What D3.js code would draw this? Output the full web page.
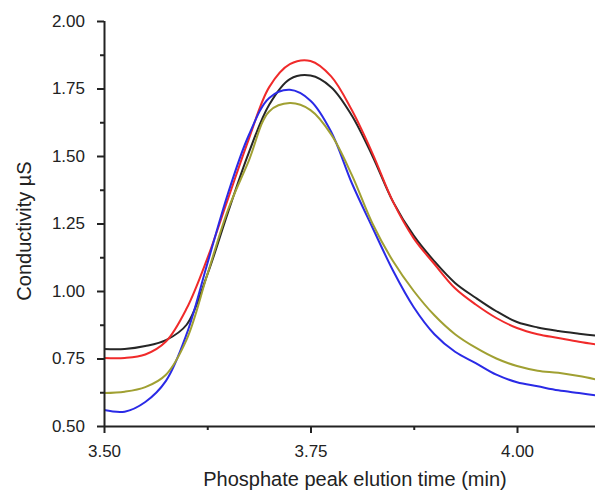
<!DOCTYPE html>
<html>
<head>
<meta charset="utf-8">
<script src="https://cdn.jsdelivr.net/npm/d3@7"></script>
<style>
  body { margin: 0; background: #fff; }
  svg text { font-family: "Liberation Sans", Arial, sans-serif; fill: #222; }
  .axis text { font-size: 17px; }
</style>
</head>
<body>
<svg id="chart" width="595" height="492"></svg>
<script>
// elution time (min)
var times = [3.500, 3.525, 3.550, 3.575, 3.600, 3.625, 3.650, 3.675, 3.700, 3.725,
             3.750, 3.775, 3.800, 3.825, 3.850, 3.875, 3.900, 3.925, 3.950, 3.975,
             4.000, 4.025, 4.050, 4.075, 4.100];

// conductivity (uS)
var blackVals = [0.785, 0.785, 0.796, 0.818, 0.875, 1.060, 1.290, 1.510, 1.690, 1.785,
                 1.798, 1.755, 1.650, 1.500, 1.330, 1.205, 1.110, 1.030, 0.975, 0.925,
                 0.885, 0.865, 0.852, 0.842, 0.833];
var redVals   = [0.752, 0.752, 0.765, 0.813, 0.935, 1.120, 1.340, 1.560, 1.755, 1.840,
                 1.852, 1.795, 1.670, 1.510, 1.330, 1.195, 1.100, 1.010, 0.950, 0.900,
                 0.863, 0.840, 0.826, 0.812, 0.800];
var blueVals  = [0.559, 0.553, 0.589, 0.667, 0.840, 1.100, 1.360, 1.575, 1.715, 1.745,
                 1.705, 1.590, 1.400, 1.235, 1.075, 0.940, 0.840, 0.775, 0.733, 0.690,
                 0.662, 0.647, 0.632, 0.622, 0.612];
var oliveVals = [0.622, 0.627, 0.644, 0.690, 0.820, 1.060, 1.300, 1.480, 1.665, 1.696,
                 1.670, 1.580, 1.430, 1.250, 1.110, 1.000, 0.910, 0.840, 0.790, 0.750,
                 0.722, 0.705, 0.697, 0.685, 0.670];

var seriesNames  = ["black", "red", "blue", "olive"];
var seriesVals   = [blackVals, redVals, blueVals, oliveVals];
var seriesColors = ["#262626", "#f02a2a", "#2a2ae6", "#a0a032"];

var xMajor = [3.50, 3.75, 4.00];
var xMinor = [3.625, 3.875];
var yMajor = [0.50, 0.75, 1.00, 1.25, 1.50, 1.75, 2.00];
var yMinor = [0.625, 0.875, 1.125, 1.375, 1.625, 1.875];

var svg = d3.select("#chart");

var x = d3.scaleLinear().domain([3.5, 4.1]).range([104, 599.6]);
var y = d3.scaleLinear().domain([0.5, 2.0]).range([426, 21]);

svg.append("clipPath").attr("id", "clip")
  .append("rect").attr("x", 104).attr("y", 0).attr("width", 491).attr("height", 426);

var line = d3.line()
  .x(function(d) { return x(d[0]); })
  .y(function(d) { return y(d[1]); })
  .curve(d3.curveCatmullRom.alpha(0.5));

var plot = svg.append("g").attr("clip-path", "url(#clip)");
for (var i = 0; i < seriesVals.length; i++) {
  var pts = times.map(function(t, j) { return [t, seriesVals[i][j]]; });
  plot.append("path")
    .datum(pts)
    .attr("class", "trace " + seriesNames[i])
    .attr("fill", "none")
    .attr("stroke", seriesColors[i])
    .attr("stroke-width", 2)
    .attr("d", line);
}

// axes
var xAxis = svg.append("g").attr("class", "axis").attr("transform", "translate(0,426)")
  .call(d3.axisBottom(x).tickValues(xMajor).tickSize(7).tickPadding(12)
    .tickFormat(d3.format(".2f")));
svg.append("g").attr("transform", "translate(0,426)")
  .call(d3.axisBottom(x).tickValues(xMinor).tickSize(4).tickFormat(""))
  .select(".domain").remove();

var yAxis = svg.append("g").attr("class", "axis").attr("transform", "translate(104,0)")
  .call(d3.axisLeft(y).tickValues(yMajor).tickSize(7).tickPadding(12)
    .tickFormat(d3.format(".2f")));
svg.append("g").attr("transform", "translate(104,0)")
  .call(d3.axisLeft(y).tickValues(yMinor).tickSize(4).tickFormat(""))
  .select(".domain").remove();

svg.selectAll(".domain").attr("stroke", "#222").attr("stroke-width", 2);
svg.selectAll(".tick line").attr("stroke", "#222").attr("stroke-width", 2);
svg.selectAll(".axis .tick text").style("font-size", "17px").style("fill", "#222");

// x domain runs to the edge of the picture
xAxis.select(".domain").attr("d", "M104,0.5H595");
yAxis.select(".domain").attr("d", "M0.5,21V426");

svg.append("text")
  .attr("x", 355).attr("y", 486)
  .attr("text-anchor", "middle")
  .attr("font-size", 20)
  .text("Phosphate peak elution time (min)");

svg.append("text")
  .attr("transform", "translate(31,231) rotate(-90)")
  .attr("text-anchor", "middle")
  .attr("font-size", 20)
  .text("Conductivity µS");
</script>
</body>
</html>
